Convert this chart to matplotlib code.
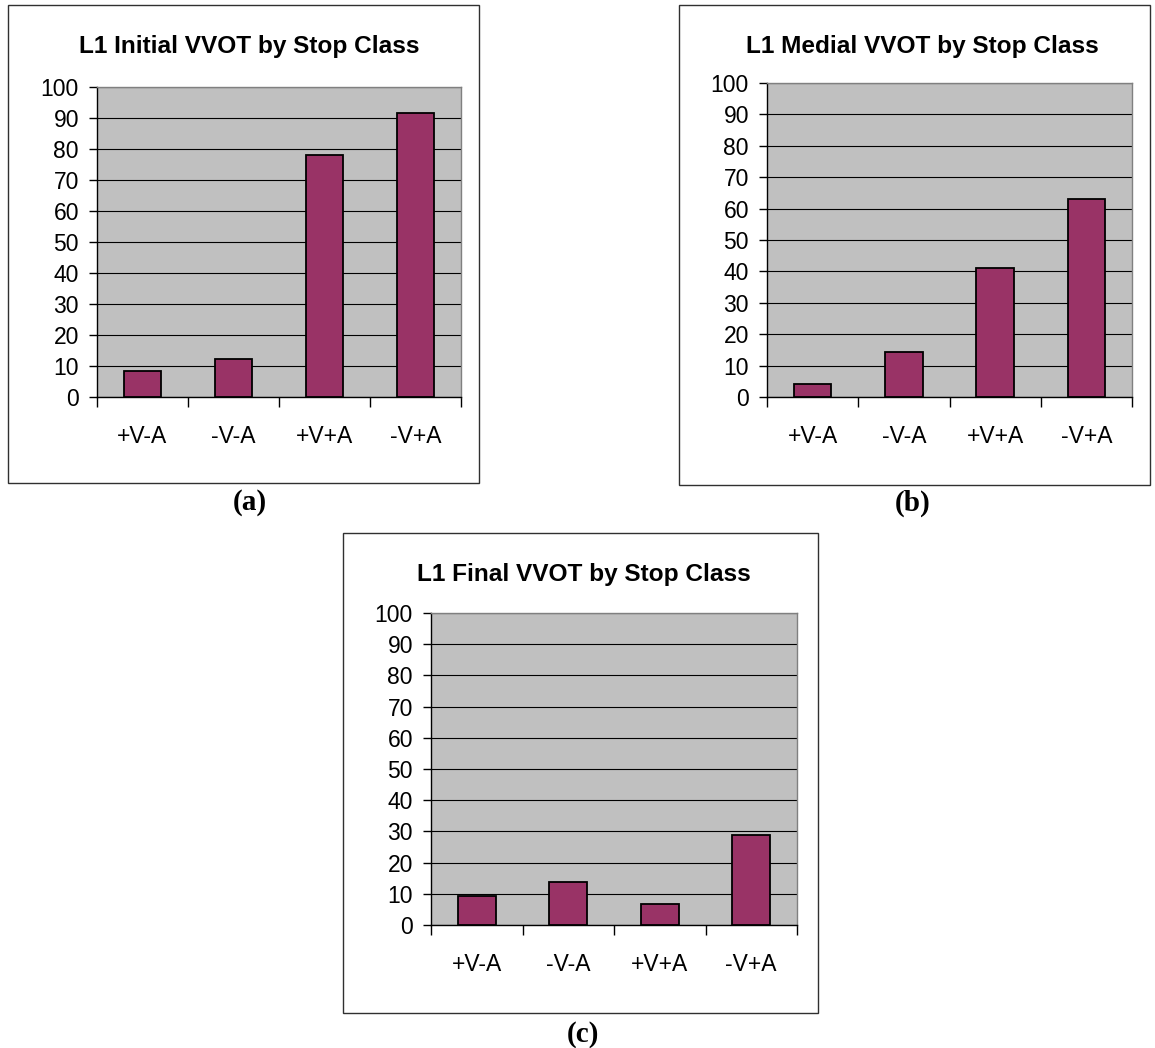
import matplotlib
matplotlib.use("Agg")
import matplotlib.pyplot as plt
from matplotlib.patches import Rectangle

plt.rcParams['font.family'] = ['Liberation Sans', 'DejaVu Sans']

categories = ["+V-A", "-V-A", "+V+A", "-V+A"]
initial_vals = [8.4, 12.1, 78.2, 91.6]
medial_vals = [4.1, 14.2, 41.1, 63.0]
final_vals = [9.4, 13.7, 6.8, 28.9]
titles = ["L1 Initial VVOT by Stop Class",
          "L1 Medial VVOT by Stop Class",
          "L1 Final VVOT by Stop Class"]
panel_labels = ["(a)", "(b)", "(c)"]
y_ticks = list(range(0, 101, 10))

W, H = 1155, 1048
fig = plt.figure(figsize=(W / 100, H / 100), dpi=100)
fig.patch.set_facecolor("white")


def frac(x0, y0, x1, y1):
    return [x0 / W, 1 - y1 / H, (x1 - x0) / W, (y1 - y0) / H]


def draw_panel(box, plot, title_xy, label_xy, values, title, label):
    bx0, by0, bx1, by1 = box
    fig.patches.append(Rectangle((bx0 / W, 1 - by1 / H), (bx1 - bx0) / W, (by1 - by0) / H,
                                 transform=fig.transFigure, fill=False,
                                 edgecolor="#303030", linewidth=1.0))
    ax = fig.add_axes(frac(*plot))
    ax.set_facecolor("#C0C0C0")
    ax.set_xlim(-0.5, len(categories) - 0.5)
    ax.set_ylim(0, 100)
    ax.set_yticks(y_ticks)
    ax.set_yticklabels([str(t) for t in y_ticks], fontsize=16.5)
    ax.yaxis.grid(True, color="black", linewidth=0.8)
    ax.set_axisbelow(True)
    ax.bar(range(len(categories)), values, width=0.41, color="#993366",
           edgecolor="black", linewidth=1.3, zorder=3)
    # category boundaries carry the tick marks, centres carry the labels
    ax.set_xticks([i - 0.5 for i in range(len(categories) + 1)])
    ax.set_xticklabels([])
    ax.set_xticks(range(len(categories)), minor=True)
    ax.set_xticklabels(categories, minor=True, fontsize=16.5)
    ax.tick_params(axis="x", which="major", direction="out", length=7, width=1, color="black")
    ax.tick_params(axis="x", which="minor", length=0, pad=20)
    ax.tick_params(axis="y", direction="out", length=6, width=1, color="black", pad=7)
    for s in ("top", "right"):
        ax.spines[s].set_color("#808080")
        ax.spines[s].set_linewidth(1.0)
    for s in ("left", "bottom"):
        ax.spines[s].set_color("black")
        ax.spines[s].set_linewidth(1.0)
    fig.text(title_xy[0] / W, 1 - title_xy[1] / H, title, ha="center", va="center",
             fontsize=17.6, fontweight="bold")
    fig.text(label_xy[0] / W, 1 - label_xy[1] / H, label, ha="center", va="center",
             fontsize=21, fontweight="bold", family="Liberation Serif")


draw_panel((8, 5, 479, 483), (97, 87, 461, 397), (249, 47), (250, 503),
           initial_vals, titles[0], panel_labels[0])
draw_panel((679, 5, 1150, 485), (767, 83, 1132, 397), (922, 47), (913, 503),
           medial_vals, titles[1], panel_labels[1])
draw_panel((343, 533, 818, 1013), (431, 613, 797, 925), (584, 575), (583, 1034),
           final_vals, titles[2], panel_labels[2])

fig.savefig("out.png", dpi=100)
